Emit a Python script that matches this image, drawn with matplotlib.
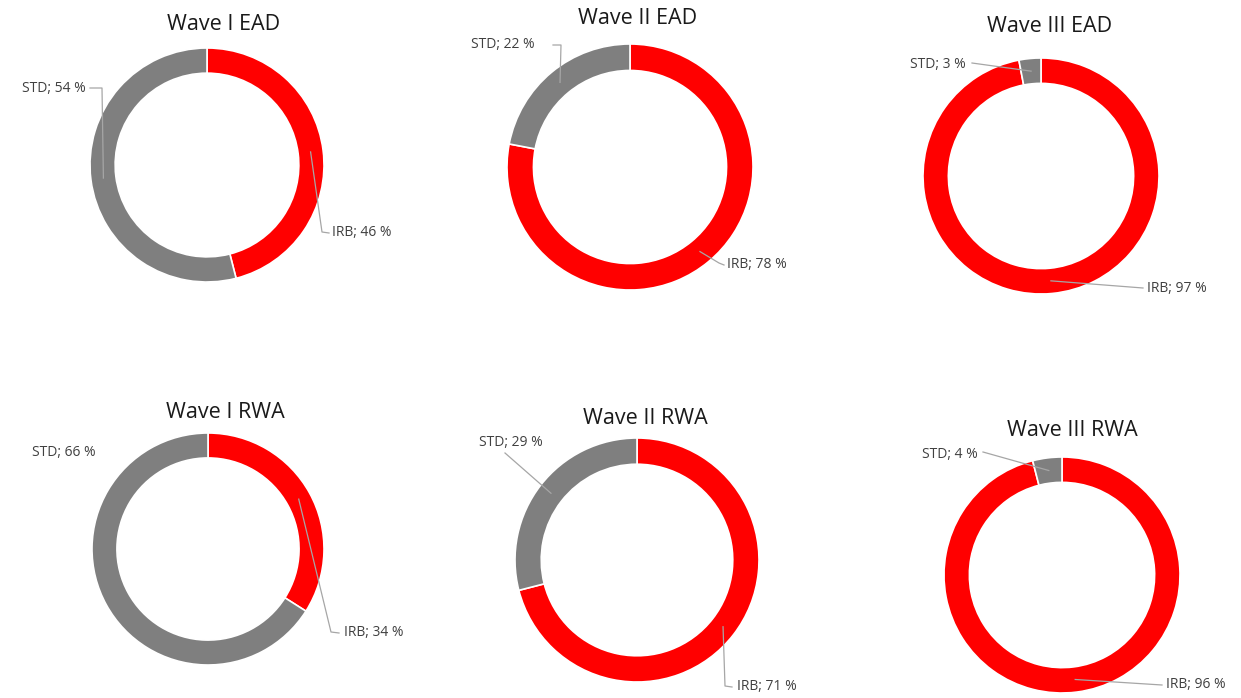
import matplotlib
matplotlib.use("Agg")
import matplotlib.pyplot as plt
import numpy as np

# shares in percent, order: IRB, STD
titles = ["Wave I EAD", "Wave II EAD", "Wave III EAD",
          "Wave I RWA", "Wave II RWA", "Wave III RWA"]
categories = ["IRB", "STD"]
irb_share = [46, 78, 97, 34, 71, 96]
std_share = [54, 22, 3, 66, 29, 4]
colors = ["#FF0000", "#7F7F7F"]

W, H = 1241, 698

# layout in pixels (y from top)
centers = [(207, 165), (630, 167), (1041, 176), (208, 549), (637, 560), (1062, 575)]
radii = [117, 123, 118, 116, 122, 118]
title_pos = [(224, 24), (638, 19), (1050, 27), (225, 412), (645, 418), (1072, 430)]

# label text position, alignment, and leader path after the wedge point
irb_lab = [((332, 233), "left", [(322, 232), (329, 233)]),
           ((727, 265), "left", [(719, 263), (724, 265)]),
           ((1147, 288), "left", [(1143, 288)]),
           ((344, 633), "left", [(331, 632), (339, 633)]),
           ((737, 687), "left", [(725, 686), (732, 687)]),
           ((1166, 685), "left", [(1162, 685)])]
std_lab = [((86, 88), "right", [(102, 88), (90, 88)]),
           ((535, 45), "right", [(561, 45), (553, 45)]),
           ((966, 64), "right", [(972, 63)]),
           ((96, 453), "right", None),
           ((543, 443), "right", [(505, 453)]),
           ((978, 455), "right", [(983, 452)])]

fig = plt.figure(figsize=(12.41, 6.98), dpi=100)
ax = fig.add_axes([0, 0, 1, 1])

for i in range(6):
    cx, cy = centers[i]
    r = radii[i]
    w = r * 0.215
    wedges, _ = ax.pie([irb_share[i], std_share[i]], colors=colors,
                       startangle=90, counterclock=False,
                       center=(cx, H - cy), radius=r,
                       wedgeprops=dict(width=w, edgecolor="white", linewidth=1.2))
    ax.text(title_pos[i][0], H - title_pos[i][1], titles[i],
            ha="center", va="center", fontsize=15.5, color="#1A1A1A",
            family="Open Sans")

    vals = [irb_share[i], std_share[i]]
    for wedge, cat, val, lab in zip(wedges, categories, vals, [irb_lab[i], std_lab[i]]):
        (tx, ty), ha, path = lab
        if path is not None:
            ang = np.deg2rad((wedge.theta1 + wedge.theta2) / 2)
            rm = r - w / 2
            xs = [cx + rm * np.cos(ang)] + [p[0] for p in path]
            ys = [H - cy + rm * np.sin(ang)] + [H - p[1] for p in path]
            ax.plot(xs, ys, color="#A6A6A6", lw=0.9, zorder=5)
        ax.text(tx, H - ty, f"{cat}; {val} %", ha=ha, va="center",
                fontsize=10, color="#404040", family="Open Sans")

ax.set_xlim(0, W)
ax.set_ylim(0, H)
ax.axis("off")

fig.savefig("out.png", dpi=100, facecolor="white")
